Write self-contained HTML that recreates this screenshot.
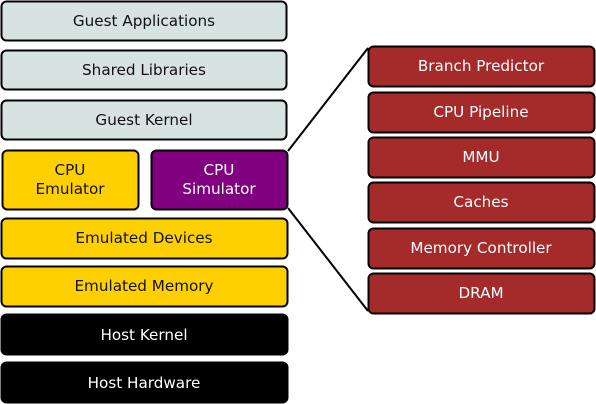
<!DOCTYPE html>
<html><head><style>html,body{margin:0;padding:0;background:#fff}svg{display:block}</style></head><body>
<svg width="596" height="404" viewBox="0 0 596 404" xmlns="http://www.w3.org/2000/svg" font-family="DejaVu Sans, Liberation Sans, sans-serif" font-size="15.2" text-anchor="middle">
<g stroke="#000" stroke-width="2">
<line x1="288" y1="151" x2="368" y2="48"/>
<line x1="288" y1="208" x2="368" y2="311"/>
<rect x="1.5" y="1.5" width="285" height="39" rx="5" fill="#d7e3e1"/>
<rect x="1.5" y="50.5" width="285" height="39" rx="5" fill="#d7e3e1"/>
<rect x="1.5" y="100.5" width="285" height="39" rx="5" fill="#d7e3e1"/>
<rect x="2.5" y="150.5" width="136" height="59" rx="5" fill="#ffd000"/>
<rect x="151.5" y="150.5" width="136" height="59" rx="5" fill="#800080"/>
<rect x="1.5" y="218.5" width="286" height="40" rx="5" fill="#ffd000"/>
<rect x="1.5" y="266.5" width="286" height="40" rx="5" fill="#ffd000"/>
<rect x="1.5" y="314.5" width="286" height="40" rx="5" fill="#000"/>
<rect x="1.5" y="362.5" width="286" height="40" rx="5" fill="#000"/>
<g fill="#a52a2a">
<rect x="368.5" y="46.5" width="226" height="40" rx="5"/>
<rect x="368.5" y="92.5" width="226" height="40" rx="5"/>
<rect x="368.5" y="137.5" width="226" height="40" rx="5"/>
<rect x="368.5" y="182.5" width="226" height="40" rx="5"/>
<rect x="368.5" y="228.5" width="226" height="40" rx="5"/>
<rect x="368.5" y="273.5" width="226" height="40" rx="5"/>
</g></g>
<g fill="#111">
<text x="144" y="26">Guest Applications</text>
<text x="144" y="75">Shared Libraries</text>
<text x="144" y="125">Guest Kernel</text>
<text x="70" y="175">CPU</text>
<text x="70" y="194">Emulator</text>
<text x="144" y="243">Emulated Devices</text>
<text x="144" y="291">Emulated Memory</text>
</g>
<g fill="#fff">
<text x="219" y="175">CPU</text>
<text x="219" y="194">Simulator</text>
<text x="144" y="340">Host Kernel</text>
<text x="144" y="388">Host Hardware</text>
<text x="481" y="71">Branch Predictor</text>
<text x="481" y="117">CPU Pipeline</text>
<text x="481" y="162">MMU</text>
<text x="481" y="207">Caches</text>
<text x="481" y="253">Memory Controller</text>
<text x="481" y="298">DRAM</text>
</g>
</svg>
</body></html>
